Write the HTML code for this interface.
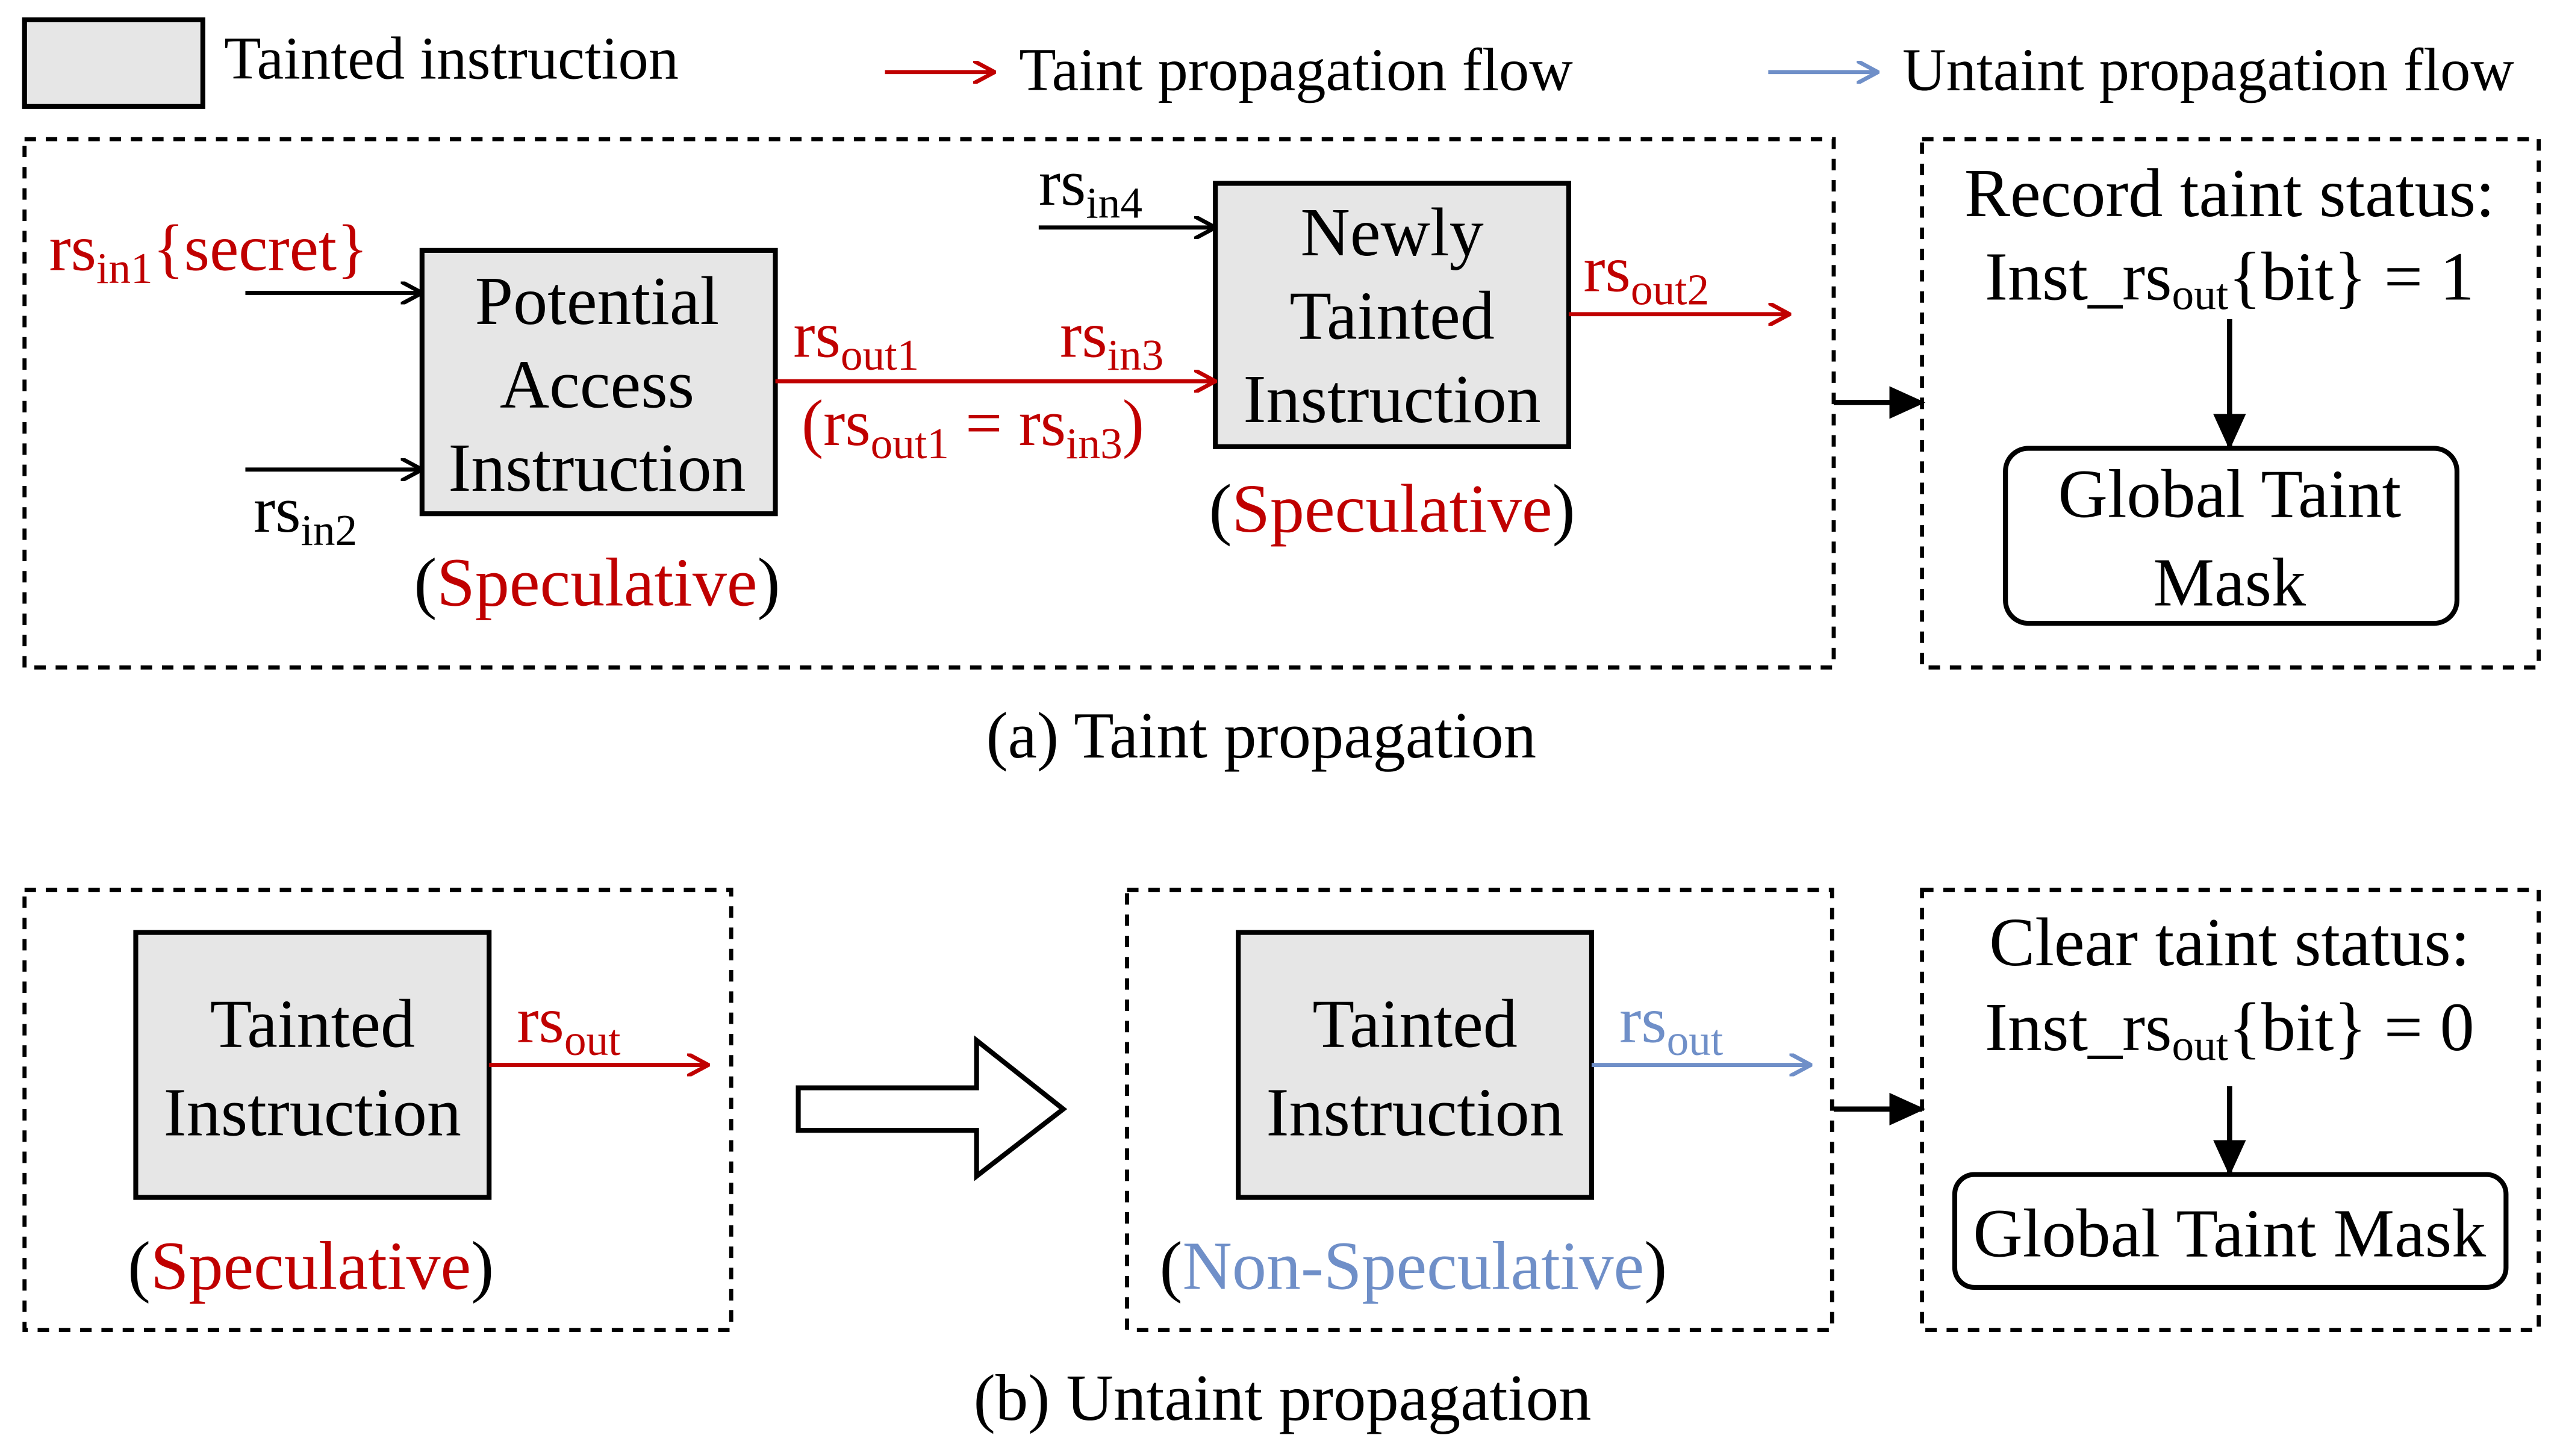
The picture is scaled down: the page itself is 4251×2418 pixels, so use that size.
<!DOCTYPE html>
<html><head><meta charset="utf-8"><style>
html,body{margin:0;padding:0;background:#fff;width:4251px;height:2418px;overflow:hidden}
svg{display:block}
text{font-family:"Liberation Serif",serif;fill:#000}
.r{fill:#c00000}.b{fill:#6f8fc8}
</style></head><body>
<svg width="4251" height="2418" viewBox="0 0 1565 890" xmlns="http://www.w3.org/2000/svg">
<defs>
<marker id="ar" markerWidth="14" markerHeight="14" refX="12" refY="7" orient="auto" markerUnits="userSpaceOnUse"><path d="M0,0 L13,7 L0,14" fill="none" stroke="#c00000" stroke-width="2.5"/></marker>
<marker id="ak" markerWidth="14" markerHeight="14" refX="12" refY="7" orient="auto" markerUnits="userSpaceOnUse"><path d="M0,0 L13,7 L0,14" fill="none" stroke="#000" stroke-width="2.5"/></marker>
<marker id="ab" markerWidth="14" markerHeight="14" refX="12" refY="7" orient="auto" markerUnits="userSpaceOnUse"><path d="M0,0 L13,7 L0,14" fill="none" stroke="#6f8fc8" stroke-width="2.5"/></marker>
<marker id="af" markerWidth="22" markerHeight="20" refX="20" refY="10" orient="auto" markerUnits="userSpaceOnUse"><path d="M0,0 L22,10 L0,20 Z" fill="#000"/></marker>
</defs>
<g font-size="37">
<rect x="15" y="12" width="109" height="53" fill="#e6e6e6" stroke="#000" stroke-width="3"/>
<text x="137" y="48">Tainted instruction</text>
<line x1="541" y1="44" x2="607" y2="44" stroke="#c00000" stroke-width="2.5" marker-end="url(#ar)"/>
<text x="623" y="55">Taint propagation flow</text>
<line x1="1081" y1="44" x2="1147" y2="44" stroke="#6f8fc8" stroke-width="2.5" marker-end="url(#ab)"/>
<text x="1163" y="55">Untaint propagation flow</text>
</g>
<g fill="none" stroke="#000" stroke-width="2.5" stroke-dasharray="7,6">
<rect x="15" y="85" width="1106" height="323"/>
<rect x="1175" y="85" width="377" height="323"/>
<rect x="15" y="544" width="432" height="269"/>
<rect x="689" y="544" width="431" height="269"/>
<rect x="1175" y="544" width="377" height="269"/>
</g>
<g font-size="42" text-anchor="middle">
<rect x="258" y="153" width="216" height="161" fill="#e6e6e6" stroke="#000" stroke-width="3"/>
<text x="365" y="198">Potential</text><text x="365" y="249">Access</text><text x="365" y="300">Instruction</text>
<text x="365" y="370">(<tspan class="r">Speculative</tspan>)</text>
<rect x="743" y="112" width="216" height="161" fill="#e6e6e6" stroke="#000" stroke-width="3"/>
<text x="851" y="156">Newly</text><text x="851" y="207">Tainted</text><text x="851" y="258">Instruction</text>
<text x="851" y="325">(<tspan class="r">Speculative</tspan>)</text>
<text x="1363" y="132">Record taint status:</text>
<text x="1363" y="183">Inst_rs<tspan font-size="27" dy="6">out</tspan><tspan dy="-6">{bit} = 1</tspan></text>
<rect x="1226" y="274" width="276" height="107" rx="14" fill="#fff" stroke="#000" stroke-width="3"/>
<text x="1363" y="316">Global Taint</text><text x="1363" y="370">Mask</text>
<text x="771" y="463" font-size="40">(a) Taint propagation</text>
<rect x="83" y="570" width="216" height="162" fill="#e6e6e6" stroke="#000" stroke-width="3"/>
<text x="191" y="640">Tainted</text><text x="191" y="694">Instruction</text>
<text x="190" y="788">(<tspan class="r">Speculative</tspan>)</text>
<rect x="757" y="570" width="216" height="162" fill="#e6e6e6" stroke="#000" stroke-width="3"/>
<text x="865" y="640">Tainted</text><text x="865" y="694">Instruction</text>
<text x="864" y="788">(<tspan class="b">Non-Speculative</tspan>)</text>
<text x="1363" y="590">Clear taint status:</text>
<text x="1363" y="642">Inst_rs<tspan font-size="27" dy="6">out</tspan><tspan dy="-6">{bit} = 0</tspan></text>
<rect x="1195" y="718" width="337" height="69" rx="12" fill="#fff" stroke="#000" stroke-width="3"/>
<text x="1363" y="768">Global Taint Mask</text>
<text x="784" y="868" font-size="40">(b) Untaint propagation</text>
</g>
<g font-size="40">
<text x="30" y="165" class="r">rs<tspan font-size="27" dy="8">in1</tspan><tspan dy="-8">{secret}</tspan></text>
<text x="155" y="325">rs<tspan font-size="27" dy="8">in2</tspan></text>
<text x="485" y="218" class="r">rs<tspan font-size="27" dy="8">out1</tspan></text>
<text x="648" y="218" class="r">rs<tspan font-size="27" dy="8">in3</tspan></text>
<text x="490" y="272" class="r">(rs<tspan font-size="27" dy="8">out1</tspan><tspan dy="-8"> = rs</tspan><tspan font-size="27" dy="8">in3</tspan><tspan dy="-8">)</tspan></text>
<text x="635" y="125">rs<tspan font-size="27" dy="8">in4</tspan></text>
<text x="968" y="178" class="r">rs<tspan font-size="27" dy="8">out2</tspan></text>
<text x="316" y="637" class="r">rs<tspan font-size="27" dy="8">out</tspan></text>
<text x="990" y="637" class="b">rs<tspan font-size="27" dy="8">out</tspan></text>
</g>
<g stroke-width="2.5">
<line x1="150" y1="179" x2="257" y2="179" stroke="#000" marker-end="url(#ak)"/>
<line x1="150" y1="287" x2="257" y2="287" stroke="#000" marker-end="url(#ak)"/>
<line x1="474" y1="233" x2="742" y2="233" stroke="#c00000" marker-end="url(#ar)"/>
<line x1="635" y1="139" x2="742" y2="139" stroke="#000" marker-end="url(#ak)"/>
<line x1="959" y1="192" x2="1093" y2="192" stroke="#c00000" marker-end="url(#ar)"/>
<line x1="299" y1="651" x2="432" y2="651" stroke="#c00000" marker-end="url(#ar)"/>
<line x1="973" y1="651" x2="1106" y2="651" stroke="#6f8fc8" marker-end="url(#ab)"/>
</g>
<g stroke="#000" stroke-width="3.2">
<line x1="1121" y1="246" x2="1175" y2="246" marker-end="url(#af)"/>
<line x1="1121" y1="678" x2="1175" y2="678" marker-end="url(#af)"/>
<line x1="1363" y1="195" x2="1363" y2="273" marker-end="url(#af)"/>
<line x1="1363" y1="664" x2="1363" y2="717" marker-end="url(#af)"/>
</g>
<path d="M488,665 L597,665 L597,636 L650,678 L597,719 L597,691 L488,691 Z" fill="#fff" stroke="#000" stroke-width="3"/>
</svg>
</body></html>
